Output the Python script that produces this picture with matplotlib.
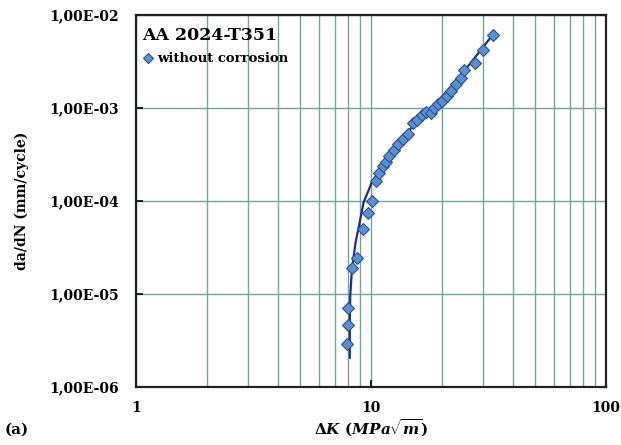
import numpy as np
import matplotlib
matplotlib.use('Agg')
import matplotlib.pyplot as plt
from matplotlib.ticker import FixedLocator, FuncFormatter, LogLocator, NullFormatter

# Datos de propagación de grieta, AA 2024-T351 sin corrosión
delta_k = [7.90, 7.94, 7.94, 8.26, 8.71, 9.20, 9.66, 10.10, 10.50, 10.82,
           11.20, 11.53, 11.93, 12.47, 12.97, 13.62, 14.31, 15.03, 15.71, 16.42,
           17.08, 17.94, 18.48, 19.21, 20.08, 20.99, 21.83, 22.93, 24.08, 24.93,
           27.63, 29.89, 32.97]
dadn = [2.94e-6, 4.70e-6, 7.16e-6, 1.93e-5, 2.47e-5, 5.06e-5, 7.52e-5, 1.01e-4,
        1.66e-4, 2.02e-4, 2.41e-4, 2.66e-4, 3.08e-4, 3.58e-4, 4.15e-4, 4.70e-4,
        5.32e-4, 6.98e-4, 7.52e-4, 8.51e-4, 9.17e-4, 8.95e-4, 1.01e-3, 1.12e-3,
        1.20e-3, 1.36e-3, 1.54e-3, 1.83e-3, 2.13e-3, 2.56e-3, 3.08e-3, 4.26e-3,
        6.17e-3]

# Curva de ajuste
ajuste_k = [8.12, 8.12, 8.16, 8.26, 8.42, 8.59, 8.85, 9.29, 10.02, 10.98,
            12.47, 14.74, 18.48, 24.08, 32.97]
ajuste_dadn = [2.07e-6, 5.19e-6, 9.88e-6, 1.58e-5, 2.47e-5, 3.58e-5, 5.19e-5,
               9.64e-5, 1.54e-4, 2.29e-4, 3.49e-4, 6.02e-4, 1.06e-3, 2.24e-3,
               6.17e-3]

y_ticks = [1e-6, 1e-5, 1e-4, 1e-3, 1e-2]
x_ticks = [1, 10, 100]

plt.rcParams['font.family'] = ['DejaVu Serif']
plt.rcParams['font.weight'] = 'bold'
plt.rcParams['mathtext.fontset'] = 'custom'
plt.rcParams['mathtext.rm'] = 'DejaVu Serif:bold'
plt.rcParams['mathtext.it'] = 'DejaVu Serif:italic:bold'
plt.rcParams['mathtext.bf'] = 'DejaVu Serif:bold'

color_grid = '#6fa898'

fig = plt.figure(figsize=(6.21, 4.45), dpi=100)
ax = fig.add_axes([0.219, 0.130, 0.757, 0.836])
ax.set_xscale('log')
ax.set_yscale('log')
ax.set_xlim(1, 100)
ax.set_ylim(1e-6, 1e-2)

# Rejilla: principal y secundaria en x, solo principal en y
ax.xaxis.set_major_locator(FixedLocator(x_ticks))
ax.xaxis.set_minor_locator(LogLocator(base=10, subs=np.arange(2, 10)))
ax.xaxis.set_minor_formatter(NullFormatter())
ax.yaxis.set_major_locator(FixedLocator(y_ticks))
ax.yaxis.set_minor_locator(FixedLocator([]))
ax.grid(which='major', axis='both', color=color_grid, lw=1.0)
ax.grid(which='minor', axis='x', color=color_grid, lw=1.0)
ax.set_axisbelow(True)

ax.xaxis.set_major_formatter(FuncFormatter(lambda v, p: f'{v:g}'))
ax.yaxis.set_major_formatter(FuncFormatter(
    lambda v, p: ('%.2E' % v).replace('.', ',')))

ax.tick_params(axis='y', which='major', direction='in', length=5, width=1.2,
               pad=12, labelsize=10)
ax.tick_params(axis='x', which='major', direction='in', length=5, width=1.2,
               pad=10, labelsize=10)
ax.tick_params(which='minor', length=0)

for s in ax.spines.values():
    s.set_linewidth(1.6)
    s.set_color('#222222')

ax.plot(ajuste_k, ajuste_dadn, color='#1c2a9a', lw=1.6, zorder=3)
ax.plot(delta_k, dadn, linestyle='none', marker='D', markersize=6.5,
        markerfacecolor='#5a8fd0', markeredgecolor='#2f4f8f',
        markeredgewidth=0.8, label='without corrosion', zorder=4)

ax.text(0.012, 0.968, 'AA 2024-T351', transform=ax.transAxes,
        fontsize=12.5, fontweight='bold', va='top', ha='left')
ax.legend(loc='upper left', bbox_to_anchor=(-0.005, 0.925), frameon=False,
          markerscale=0.85, handlelength=0.8, handletextpad=0.3,
          borderpad=0.2, prop={'size': 9.5, 'weight': 'bold'})

ax.set_ylabel('da/dN (mm/cycle)', fontsize=10, fontweight='bold', labelpad=15)
ax.set_xlabel(r'$\Delta K\ (MPa\sqrt{m})$', fontsize=11, labelpad=2)
fig.text(0.008, 0.035, '(a)', fontsize=11, fontweight='bold', ha='left',
         va='center')

fig.savefig('out.png', dpi=100)
